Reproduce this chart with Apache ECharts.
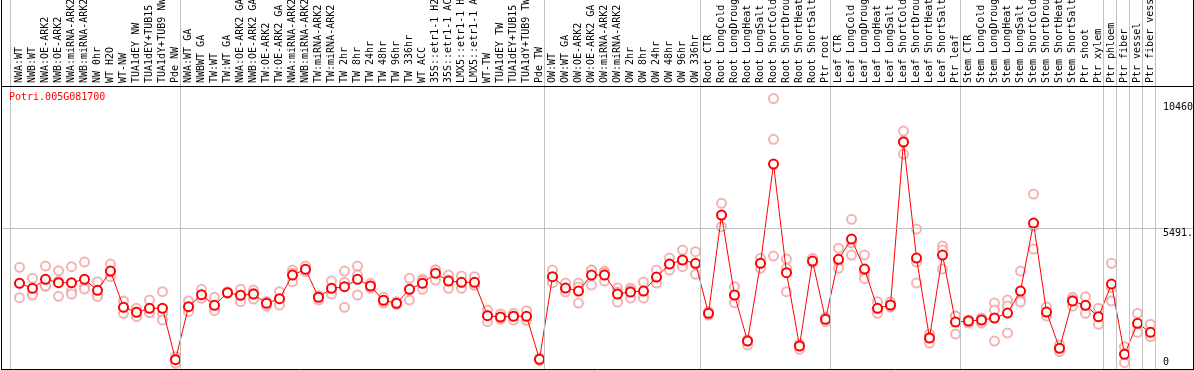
<!DOCTYPE html>
<html>
<head>
<meta charset="utf-8">
<script src="https://cdn.jsdelivr.net/npm/echarts@6/dist/echarts.min.js"></script>
<style>
html,body{margin:0;padding:0;background:#fff;}
#chart{width:1194px;height:370px;}
</style>
</head>
<body>
<div id="chart"></div>
<script>
const geneId = 'Potri.005G081700';

const categories = [
  'NWA:WT','NWB:WT','NWA:OE-ARK2','NWB:OE-ARK2','NWA:miRNA-ARK2','NWB:miRNA-ARK2','NW 0hr','WT H2O','WT-NW',
  'TUA1dEY NW','TUA1dEY+TUB15 NW','TUA1dY+TUB9 NW','Pde NW','NWA:WT GA','NWBWT GA','TW:WT','TW:WT GA',
  'NWA:OE-ARK2 GA','NWB:OE-ARK2 GA','TW:OE-ARK2','TW:OE-ARK2 GA','NWA:miRNA-ARK2 GA','NWB:miRNA-ARK2 GA',
  'TW:miRNA-ARK2','TW:miRNA-ARK2 GA','TW 2hr','TW 8hr','TW 24hr','TW 48hr','TW 96hr','TW 336hr','WT ACC',
  '35S::etr1-1 H2O','35S::etr1-1 ACC','LMX5::etr1-1 H2O','LMX5::etr1-1 ACC','WT-TW','TUA1dEY TW',
  'TUA1dEY+TUB15 TW','TUA1dY+TUB9 TW','Pde TW','OW:WT','OW:WT GA','OW:OE-ARK2','OW:OE-ARK2 GA',
  'OW:miRNA-ARK2','OW:miRNA-ARK2 GA','OW 2hr','OW 8hr','OW 24hr','OW 48hr','OW 96hr','OW 336hr',
  'Root CTR','Root LongCold','Root LongDrought','Root LongHeat','Root LongSalt','Root ShortCold',
  'Root ShortDrought','Root ShortHeat','Root ShortSalt','Ptr root',
  'Leaf CTR','Leaf LongCold','Leaf LongDrought','Leaf LongHeat','Leaf LongSalt','Leaf ShortCold',
  'Leaf ShortDrought','Leaf ShortHeat','Leaf ShortSalt','Ptr leaf',
  'Stem CTR','Stem LongCold','Stem LongDrought','Stem LongHeat','Stem LongSalt','Stem ShortCold',
  'Stem ShortDrought','Stem ShortHeat','Stem ShortSalt','Ptr shoot','Ptr xylem','Ptr phloem','Ptr fiber',
  'Ptr vessel','Ptr fiber vessel'
];

const meanValues = [
  3379,3187,3532,3402,3402,3532,3111,3850,2459,2268,2421,2421,452,2482,2942,2536,3019,2919,2969,2613,
  2789,3697,3915,2843,3187,3249,3532,3276,2728,2613,3149,3379,3762,3467,3417,3417,2138,2088,2115,2115,
  467,3632,3199,3084,3697,3697,2969,3046,3084,3620,4118,4272,4145,
  2230,5995,2931,1168,4145,7949,3785,977,4233,2000,
  4298,5076,3927,2421,2548,8792,4348,1283,4463,1896,
  1935,1973,2050,2241,3084,5689,2279,889,2701,2536,2099,3352,659,1847,1502
];

const rep1 = [
  3992,3570,4042,3862,4015,4195,3440,4118,2701,2421,2739,3057,567,2701,3149,2843,3057,3149,3122,2674,
  3057,3888,4042,2892,3467,3850,4042,3379,2843,2674,3570,3532,3888,3697,3659,3632,2356,2203,2230,2329,
  517,3888,3390,3390,3888,3850,3199,3199,3429,3888,4348,4655,4590,
  2299,6444,3249,1207,4337,10460,4310,1054,4337,2076,
  4720,5831,4463,2674,2663,9214,5459,1437,4808,2126,
  1973,2050,2624,2739,3850,6800,2471,1015,2843,2866,2421,4145,950,2230,1808
];
const rep2 = [
  3390,2996,3276,3467,3095,3249,2931,3632,2452,2279,2268,2230,452,2452,2873,2433,3019,2931,3007,2663,
  2758,3762,3888,2892,3122,3417,3697,3276,2728,2586,3134,3479,3888,3505,3402,3314,2153,2050,2126,2050,
  467,3609,3161,3237,3888,3774,3046,3122,3007,3582,4118,4145,4118,
  2222,5995,2908,1168,4145,8896,3954,977,4233,2000,
  4222,4934,3762,2356,2509,8830,4195,1322,4655,2126,
  1973,2011,2356,2509,2739,5574,2241,889,2751,2509,2073,3210,686,1804,1360
];
const rep3 = [
  2827,2931,3276,2881,2969,3161,2866,3812,2230,2099,2253,1973,314,2291,2804,2329,2981,2674,2777,2509,
  2548,3440,3823,2739,2969,2459,2931,3187,2624,2574,2739,3149,3505,3187,3187,3314,1908,2011,1973,1961,
  414,3402,3046,2624,3314,3467,2663,2816,2816,3390,3888,4015,3724,
  2165,5547,2636,1015,3954,4425,3057,850,4168,1908,
  3954,4463,3555,2230,2471,8332,3390,1092,3927,1437,
  1858,1858,1168,1475,2663,4693,2126,759,2509,2230,1808,2701,337,1502,1333
];

// positions (category index) of vertical group separators
const separators = [-0.73, 12.37, 40.37, 52.37, 62.37, 72.37, 83.37, 84.37, 85.37, 86.37, 87.37];
const yTickLabels = [
  {value: 10460, text: '10460'},
  {value: 5491, text: '5491.'},
  {value: 0, text: '0'}
];

const FONT = 'DejaVu Sans Mono';
const X_MIN = -1.423, X_MAX = 90.269;
const Y_MIN = 0, Y_MAX = 10940;

const repData = [];
[rep1, rep2, rep3].forEach(arr => arr.forEach((v, i) => { if (v != null) repData.push([i, v]); }));
const meanData = meanValues.map((v, i) => [i, v]);

const sepLine = {color: '#c0c0c0', width: 1, type: 'solid'};
const hiddenLine = {color: 'rgba(0,0,0,0)', width: 1, type: 'solid'};

const chart = echarts.init(document.getElementById('chart'), null, {renderer: 'canvas'});
chart.setOption({
  animation: false,
  backgroundColor: '#fff',
  title: {
    text: geneId, left: 9, top: 92, padding: 0,
    textStyle: {color: '#ff0000', fontSize: 10, fontFamily: FONT, fontWeight: 'normal'}
  },
  grid: [
    {left: 1, right: 1, top: 86, bottom: -1.5, show: false, containLabel: false, outerBoundsMode: 'none'},
    {left: 1, right: 1, top: 0, height: 86, show: false, containLabel: false, outerBoundsMode: 'none'}
  ],
  xAxis: [
    {
      type: 'value', gridIndex: 0, position: 'top', min: X_MIN, max: X_MAX,
      axisLine: {show: false}, axisTick: {show: false}, splitLine: {show: false},
      axisLabel: {
        customValues: categories.map((c, i) => i),
        rotate: 90, margin: 3, hideOverlap: false,
        formatter: v => categories[Math.round(v)] || '',
        fontFamily: FONT, fontSize: 10, color: '#000'
      }
    },
    {type: 'value', gridIndex: 1, min: X_MIN, max: X_MAX, show: false}
  ],
  yAxis: [
    {type: 'value', gridIndex: 0, min: Y_MIN, max: Y_MAX, show: false, splitLine: {show: false}},
    {type: 'value', gridIndex: 1, min: 0, max: 1, show: false, splitLine: {show: false}}
  ],
  graphic: [
    {type: 'line', shape: {x1: 1.5, y1: 0, x2: 1.5, y2: 370}, style: {stroke: '#000', lineWidth: 1}, z: 100},
    {type: 'line', shape: {x1: 1193.5, y1: 0, x2: 1193.5, y2: 370}, style: {stroke: '#000', lineWidth: 1}, z: 100},
    {type: 'line', shape: {x1: 1, y1: 86.5, x2: 1194, y2: 86.5}, style: {stroke: '#000', lineWidth: 1}, z: 100},
    {type: 'line', shape: {x1: 1, y1: 369.5, x2: 1194, y2: 369.5}, style: {stroke: '#000', lineWidth: 1}, z: 100}
  ],
  series: [
    {
      type: 'line', xAxisIndex: 1, yAxisIndex: 1, data: [], silent: true, z: 1,
      markLine: {
        silent: true, symbol: ['none', 'none'], animation: false,
        label: {show: false}, lineStyle: sepLine,
        data: separators.map(s => ({xAxis: s}))
      }
    },
    {
      type: 'line', xAxisIndex: 0, yAxisIndex: 0, data: [], silent: true, z: 1,
      markLine: {
        silent: true, symbol: ['none', 'none'], animation: false,
        lineStyle: sepLine,
        data: separators.map(s => ({xAxis: s, label: {show: false}})).concat(
          yTickLabels.map(t => ({
            yAxis: t.value,
            lineStyle: t.value === 5491 ? sepLine : hiddenLine,
            label: {
              show: true, formatter: t.text,
              position: t.value === 0 ? 'insideEndTop' : 'insideEndBottom',
              align: 'left',
              distance: t.value === 0 ? [30, 4] : (t.value === 5491 ? [30, 0] : [30, 4]),
              color: '#000', fontFamily: FONT, fontSize: 10
            }
          }))
        )
      }
    },
    {
      type: 'scatter', xAxisIndex: 0, yAxisIndex: 0, data: repData, z: 3,
      symbol: 'emptyCircle', symbolSize: 9,
      itemStyle: {color: '#f0a0a0', borderColor: '#f0a0a0', borderWidth: 1.2}
    },
    {
      type: 'line', xAxisIndex: 0, yAxisIndex: 0, data: meanData, z: 4,
      symbol: 'emptyCircle', symbolSize: 9, showAllSymbol: true,
      lineStyle: {color: '#ff0000', width: 1},
      itemStyle: {color: '#ff0000', borderColor: '#e00000', borderWidth: 1.6}
    }
  ]
});
</script>
</body>
</html>
